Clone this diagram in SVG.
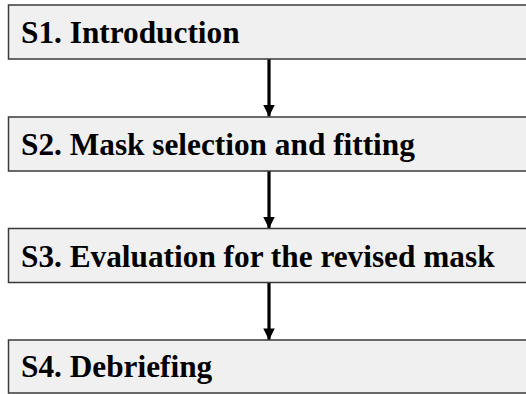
<svg xmlns="http://www.w3.org/2000/svg" width="526" height="394" viewBox="0 0 526 394">
<style>
.box{fill:#f0f0f0;stroke:#3a3a3a;stroke-width:1.5}
.lbl{font-family:"Liberation Serif","Times New Roman",serif;font-weight:bold;font-size:31.3px;fill:#000}
.arr{stroke:#000;stroke-width:3.2;fill:none}
</style>
<defs>
<marker id="ah" markerWidth="4" markerHeight="4" refX="3.6" refY="2" orient="auto" markerUnits="strokeWidth">
<path d="M0,0.2 L3.6,2 L0,3.8 Z" fill="#000"/>
</marker>
</defs>
<rect x="0" y="0" width="526" height="394" fill="#fff"/>
<g id="connectors">
<line class="arr" x1="269" y1="59" x2="269" y2="116.5" marker-end="url(#ah)"/>
<line class="arr" x1="269" y1="171" x2="269" y2="228.5" marker-end="url(#ah)"/>
<line class="arr" x1="269" y1="283" x2="269" y2="340" marker-end="url(#ah)"/>
</g>
<g id="s1">
<rect class="box" x="8.5" y="5" width="530" height="54"/>
<text class="lbl" x="21" y="43">S1. Introduction</text>
</g>
<g id="s2">
<rect class="box" x="8.5" y="117" width="530" height="54"/>
<text class="lbl" x="21" y="155">S2. Mask selection and fitting</text>
</g>
<g id="s3">
<rect class="box" x="8.5" y="228.5" width="530" height="54"/>
<text class="lbl" x="21" y="267">S3. Evaluation for the revised mask</text>
</g>
<g id="s4">
<rect class="box" x="8.5" y="340" width="530" height="53"/>
<text class="lbl" x="21" y="377">S4. Debriefing</text>
</g>
</svg>
